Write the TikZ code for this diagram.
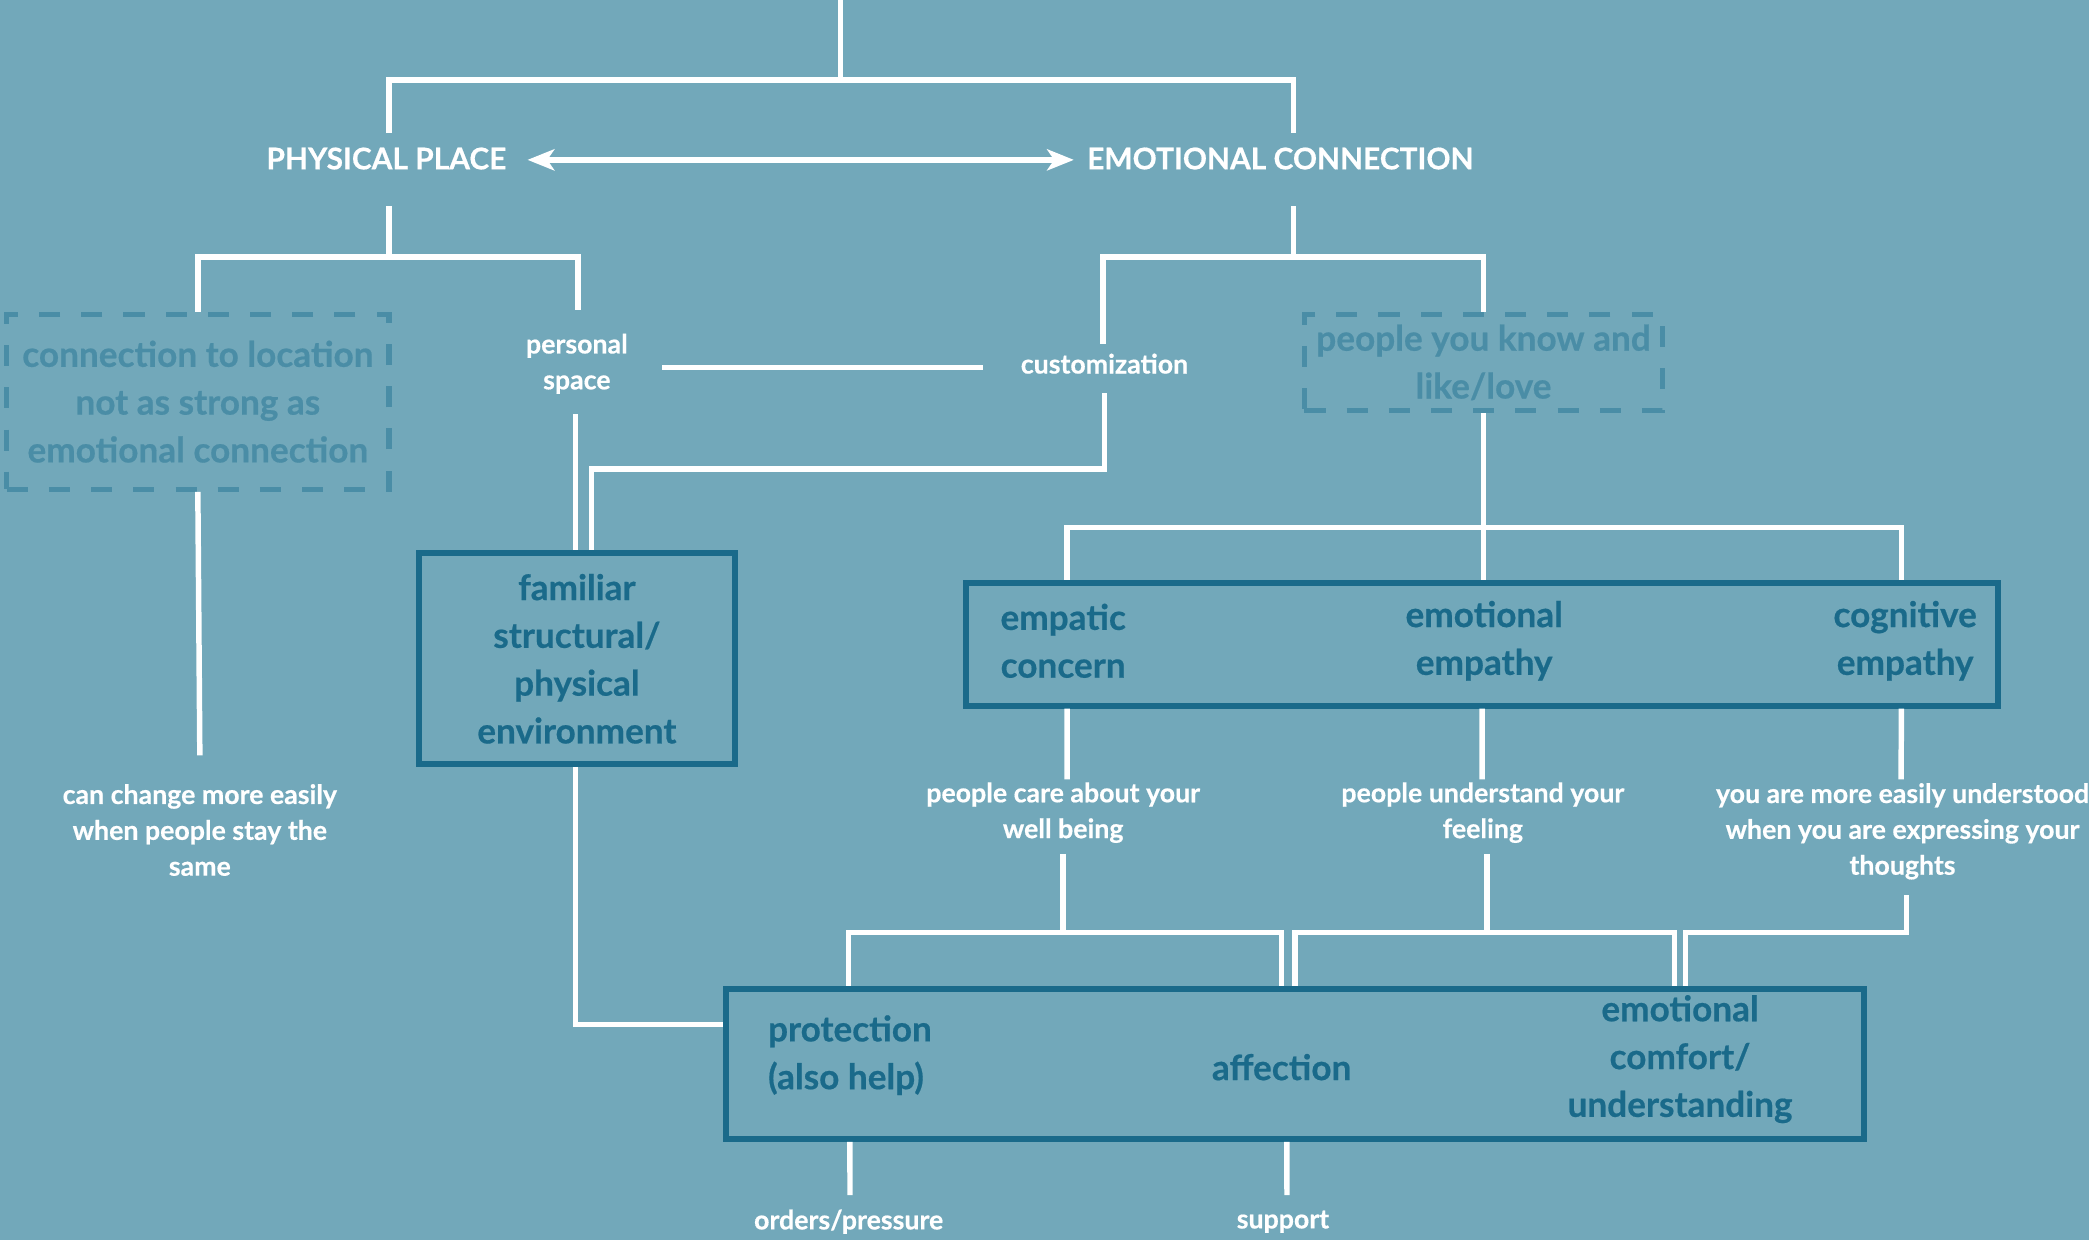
\documentclass[tikz,border=0pt]{standalone}
\usepackage{fontspec}
\setmainfont{Lato}[BoldFeatures={FakeBold=0.5}]
\usetikzlibrary{arrows.meta,calc}
\definecolor{bgteal}{HTML}{72A8BA}
\definecolor{boxblue}{HTML}{1A6A8A}
\definecolor{dashblue}{HTML}{4A8DA6}

\begin{document}
\begin{tikzpicture}[x=0.013323cm, y=-0.013323cm,
    wire/.style={white, line width=1.56pt},
    twoway/.style={wire, >={Stealth[length=7.6pt,width=6pt,inset=2pt]}, <->},
    title/.style={text=white, font=\bfseries\fontsize{8.5}{10}\selectfont, inner sep=0pt},
    lbl/.style={text=white, align=center, font=\bfseries\fontsize{7.6}{10.2}\selectfont, inner sep=0pt},
    boxtxt/.style={text=boxblue, align=center, font=\bfseries\fontsize{10}{13.6}\selectfont, inner sep=0pt},
    solidbox/.style={boxtxt, draw=boxblue, line width=1.7pt},
    dashbox/.style={draw=dashblue, line width=1.5pt, dash pattern=on 6pt off 6pt, text=dashblue,
      align=center, font=\bfseries\fontsize{10}{13.6}\selectfont, inner sep=0pt}]

        \fill[bgteal] (0,0) rectangle (1568,931);
        \useasboundingbox (0,0) rectangle (1568,931);

        \coordinate (top) at (631,0);

        \node[title] (phys) at (290,119) {PHYSICAL PLACE};
        \node[title] (emo) at (961,119) {EMOTIONAL CONNECTION};

        \node[dashbox, minimum width=3.82cm, minimum height=1.75cm] (loc) at (148.5,301.5)
          {connection to location\\not as strong as\\emotional connection};
        \node[lbl] (pers) at (433,273) {personal\\space};
        \node[lbl] (cust) at (829,273) {customization};
        \node[dashbox, minimum width=3.58cm, minimum height=0.96cm] (know) at (1113.5,272)
          {people you know and\\like/love};
        \node[lbl] (chg) at (150,623) {can change more easily\\when people stay the\\same};

        \node[solidbox, minimum width=3.16cm, minimum height=2.11cm] (fam) at (433,494.5)
          {familiar\\structural/\\physical\\environment};

        \node[solidbox, minimum width=10.32cm, minimum height=1.23cm] (emp) at (1112.5,483.5) {};
        \node[boxtxt] (empc) at (798,481) {empatic\\concern};
        \node[boxtxt] (emoe) at (1114,481) {emotional\\empathy};
        \node[boxtxt] (cogn) at (1430,481) {cognitive\\empathy};

        \node[lbl] (care) at (798,610) {people care about your\\well being};
        \node[lbl] (und) at (1113,610) {people understand your\\feeling};
        \node[lbl] (expr) at (1428,624) {you are more easily understood\\when you are expressing your\\thoughts};

        \node[solidbox, minimum width=11.37cm, minimum height=1.50cm] (bot) at (972,798.5) {};
        \node[boxtxt, align=left, anchor=west] (prot) at (576,792) {protection\\(also help)};
        \node[boxtxt] (aff) at (962,801) {affection};
        \node[boxtxt] (comf) at (1261,795) {emotional\\comfort/\\understanding};

        \node[lbl] (ord) at (637,917) {orders/pressure};
        \node[lbl] (sup) at (963,917) {support};

        \draw[wire] (top) -- ++(0,60);
        \draw[wire] ($(phys)+(2,-19)$) |- ($(emo)+(10,-59)$) -- ($(emo)+(10,-19)$);
        \draw[twoway] ($(phys)+(106,1)$) -- ($(emo)+(-155,1)$);

        \draw[wire] ($(phys)+(2,36)$) -- ($(phys)+(2,74)$);
        \draw[wire] (loc.north) |- ($(pers)+(1,-80)$) -- ($(pers)+(1,-40)$);
        \draw[wire] ($(emo)+(10,36)$) -- ($(emo)+(10,74)$);
        \draw[wire] ($(cust)+(-1,-15)$) -- ($(cust)+(-1,-80)$) -| (know.north);

        \draw[wire] ($(pers)+(64,3)$) -- ($(cust)+(-91,3)$);
        \draw[wire] ($(pers)+(-1,38)$) -- ($(fam.north)+(-1,0)$);
        \draw[wire] ($(cust)+(0,22)$) |- ($(fam.north)+(11,-61)$) -- ($(fam.north)+(11,0)$);
        \draw[wire] (loc.south) -- ($(chg)+(0,-56)$);
        \draw[wire] ($(fam.south)+(-1,0)$) |- ($(bot.north west)+(0,29)$);

        \draw[wire] (know.south) -- (know.south |- emp.north);
        \draw[wire] ($(emp.north west)+(78,0)$) |- ($(emp.north east)+(-75,-39)$) -- ($(emp.north east)+(-75,0)$);

        \draw[wire] ($(emp.south west)+(78,0)$) -- ($(care)+(3,-25)$);
        \draw[wire] (emp.south) -- ($(und)+(-0.5,-25)$);
        \draw[wire] ($(emp.south east)+(-75,0)$) -- ($(expr)+(-1,-39)$);

        \draw[wire] ($(care)+(0,31)$) -- ($(care)+(0,90)$);
        \draw[wire] ($(bot.north west)+(94,0)$) |- ($(bot.north west)+(419,-40)$) -- ($(bot.north west)+(419,0)$);
        \draw[wire] ($(und)+(3,31)$) -- ($(und)+(3,90)$);
        \draw[wire] ($(bot.north west)+(429,0)$) |- ($(bot.north west)+(714,-40)$) -- ($(bot.north west)+(714,0)$);
        \draw[wire] ($(expr)+(3,48)$) |- ($(bot.north west)+(722,-40)$) -- ($(bot.north west)+(722,0)$);

        \draw[wire] ($(bot.south west)+(95,0)$) -- ($(ord)+(1,-20)$);
        \draw[wire] ($(bot.south west)+(423,0)$) -- ($(sup)+(3,-20)$);
\end{tikzpicture}
\end{document}
